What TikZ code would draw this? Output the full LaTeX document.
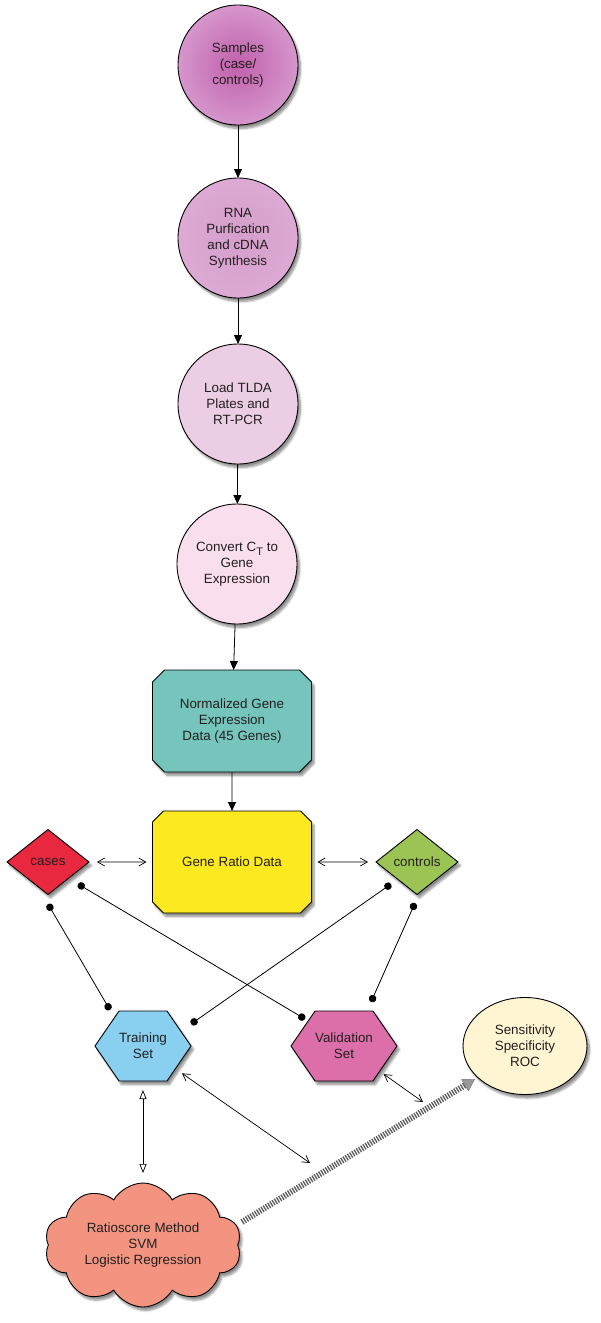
\documentclass[tikz,border=0pt]{standalone}
\usepackage{fontspec}
\setmainfont{Liberation Sans}
\usetikzlibrary{shapes.geometric,shapes.misc,shapes.symbols,arrows.meta,shadows,shadows.blur}
\definecolor{txt}{RGB}{35,31,32}
\definecolor{cA}{RGB}{192,96,172}
\definecolor{cAo}{RGB}{214,150,204}
\definecolor{cB}{RGB}{213,158,203}
\definecolor{cBo}{RGB}{220,170,212}
\definecolor{cC}{RGB}{236,206,228}
\definecolor{cD}{RGB}{249,223,237}
\definecolor{teal}{RGB}{118,197,189}
\definecolor{yell}{RGB}{252,233,32}
\definecolor{redd}{RGB}{232,40,62}
\definecolor{grn}{RGB}{156,196,84}
\definecolor{blu}{RGB}{137,207,240}
\definecolor{pnk}{RGB}{220,110,170}
\definecolor{crm}{RGB}{255,245,210}
\definecolor{slm}{RGB}{242,148,128}
\begin{document}
\begin{tikzpicture}[x=1pt,y=-1pt,
  font=\fontsize{13.4}{16}\selectfont, text=txt,
  base/.style={draw=black, line width=0.9pt, outer sep=0pt, inner sep=0pt, align=center,
    blur shadow={shadow xshift=2.5pt, shadow yshift=-3.5pt, shadow blur steps=6, shadow opacity=45}},
  stepcircle/.style={base, circle, minimum size=120},
  cbox/.style={base, chamfered rectangle, chamfered rectangle xsep=6pt, chamfered rectangle ysep=6pt, minimum width=159, minimum height=102},
  dia/.style={base, diamond, minimum width=82, minimum height=65},
  hexa/.style={base, signal, signal to=east and west, signal pointer angle=111, minimum width=96, minimum height=70},
  flow/.style={line width=0.8pt, -{Triangle[length=9pt,width=8pt]}},
  dbl/.style={line width=0.7pt, {Straight Barb[length=7pt,width=8pt]}-{Straight Barb[length=7pt,width=8pt]}},
  ball/.style={line width=0.8pt, {Circle[length=7.5pt]}-{Circle[length=7.5pt]}},
  opentri/.style={line width=0.7pt, {Triangle[open,length=9pt,width=7pt]}-{Triangle[open,length=9pt,width=7pt]}},
  stripe/.style={line width=6pt, draw=black!65, dash pattern=on 1.3pt off 1.3pt,
    -{Triangle[length=12pt,width=14pt,line width=0.4pt,fill=black!40,color=black!55]}}
]
\useasboundingbox (0,0) rectangle (600,1323);

% vertical chain
\node[stepcircle, inner color=cA, outer color=cAo] (s1) at (238,65) {Samples\\(case/\\controls)};
\node[stepcircle, inner color=cB, outer color=cBo] (s2) at (238,238) {RNA\\Purfication\\and cDNA\\Synthesis};
\node[stepcircle, fill=cC] (s3) at (238,404) {Load TLDA\\Plates and\\RT-PCR};
\node[stepcircle, fill=cD] (s4) at (237,564) {Convert C{\raisebox{-4pt}{\fontsize{11}{11}\selectfont T}} to\\Gene\\Expression};
\node[cbox, fill=teal] (norm) at (232,721) {Normalized Gene\\Expression\\Data (45 Genes)};
\node[cbox, fill=yell] (ratio) at (232,862) {Gene Ratio Data};

\node[dia, fill=redd] (cases) at (48,862) {cases};
\node[dia, fill=grn] (ctrl) at (417,862) {controls};

\node[hexa, fill=blu] (train) at (143,1046) {Training\\Set};
\node[hexa, fill=pnk] (valid) at (344,1046) {Validation\\Set};

\node[base, ellipse, fill=crm, minimum width=124, minimum height=97] (roc) at (525,1046) {Sensitivity\\Specificity\\ROC};

\node[base, cloud, cloud puffs=10, cloud puff arc=120, cloud ignores aspect, fill=slm,
  minimum width=197, minimum height=124] (meth) at (143,1245) {Ratioscore Method\\SVM\\Logistic Regression};

% chain arrows
\draw[flow] (s1) -- (s2);
\draw[flow] (s2) -- (s3);
\draw[flow] (s3) -- (s4);
\draw[flow] (s4) -- (norm);
\draw[flow] (norm) -- (ratio);

\draw[dbl, shorten <=8pt, shorten >=6pt] (cases) -- (ratio);
\draw[dbl, shorten <=6pt, shorten >=8pt] (ratio) -- (ctrl);

% ball connectors
\coordinate (b1a) at (48,904);  \coordinate (b1b) at (110,1010);
\coordinate (b2a) at (78,884);  \coordinate (b2b) at (305,1019);
\coordinate (b3a) at (391,884); \coordinate (b3b) at (191,1024);
\coordinate (b4a) at (415,903); \coordinate (b4b) at (371,1002);
\draw[ball] (b1a) -- (b1b);
\draw[ball] (b2a) -- (b2b);
\draw[ball] (b3a) -- (b3b);
\draw[ball] (b4a) -- (b4b);

% lower connectors
\coordinate (e1) at (310,1163);
\coordinate (e2) at (423,1102);
\draw[dbl, shorten <=8pt] (train) -- (e1);
\draw[dbl, shorten <=5pt] (valid) -- (e2);
\draw[opentri, shorten <=9pt, shorten >=10pt] (train) -- (meth);

\coordinate (sa) at (242,1222);
\coordinate (sb) at (475,1079);
\draw[stripe] (sa) -- (sb);
\end{tikzpicture}
\end{document}
